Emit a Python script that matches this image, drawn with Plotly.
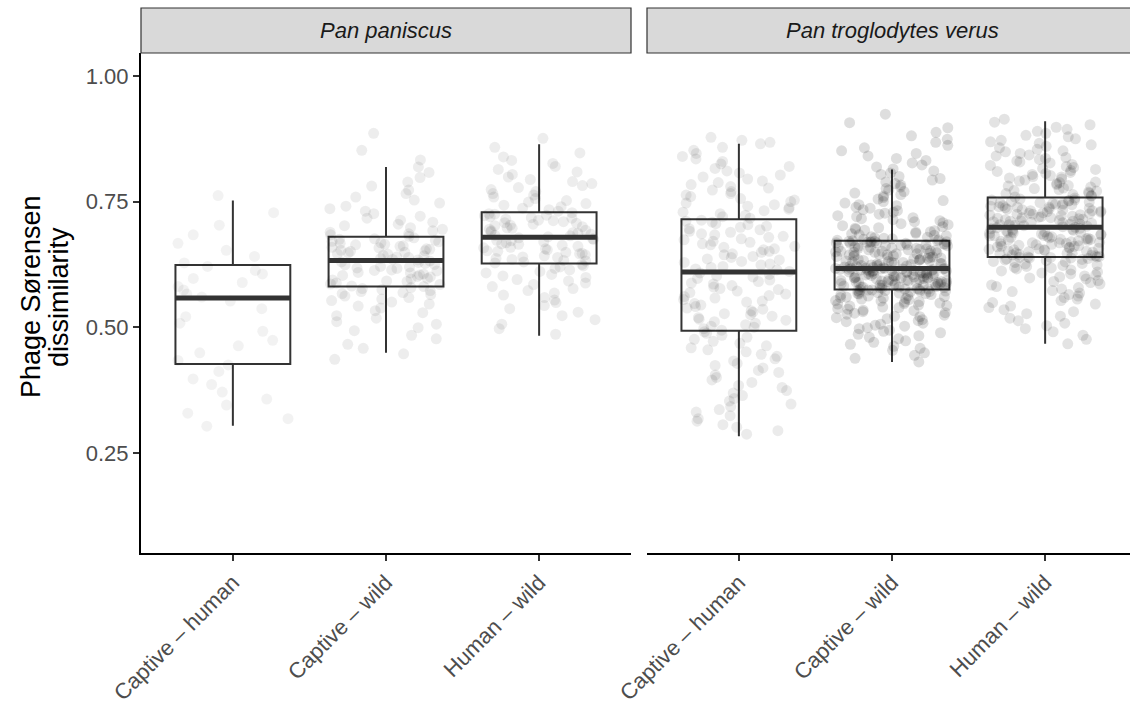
import numpy as np
import plotly.graph_objects as go

categories = ["Captive – human", "Captive – wild", "Human – wild"]
species = ["Pan paniscus", "Pan troglodytes verus"]
y_ticks = [0.25, 0.50, 0.75, 1.00]
y_tick_labels = ["0.25", "0.50", "0.75", "1.00"]

# Box summaries: lower whisker, Q1, median, Q3, upper whisker (one value per category)
paniscus_lower = [0.304, 0.449, 0.483]
paniscus_q1 = [0.427, 0.581, 0.627]
paniscus_median = [0.558, 0.633, 0.679]
paniscus_q3 = [0.624, 0.680, 0.729]
paniscus_upper = [0.752, 0.819, 0.864]

verus_lower = [0.283, 0.431, 0.467]
verus_q1 = [0.493, 0.575, 0.640]
verus_median = [0.610, 0.617, 0.699]
verus_q3 = [0.715, 0.672, 0.758]
verus_upper = [0.865, 0.814, 0.910]

# Pairwise phage Sørensen dissimilarities, stored in thousandths
paniscus_captive_human_k = [
    303, 318, 329, 345, 357, 371, 386, 397, 412, 425, 434, 449, 463, 474, 492, 508, 521, 537,
    552, 560, 566, 574, 581, 589, 597, 606, 613, 621, 628, 641, 653, 667, 684, 703, 728, 762]
paniscus_captive_wild_k = [
    436, 447, 458, 466, 477, 484, 493, 499, 506, 511, 518, 523, 529, 533, 538, 542, 546, 550, 553, 556,
    559, 562, 565, 567, 569, 571, 573, 575, 577, 579, 581, 582, 585, 586, 588, 591, 592, 594, 596, 597,
    600, 601, 603, 604, 606, 608, 609, 612, 613, 614, 617, 618, 620, 621, 624, 625, 627, 629, 630, 632,
    634, 635, 637, 639, 640, 642, 643, 645, 646, 648, 649, 651, 652, 653, 655, 656, 658, 659, 661, 662,
    664, 665, 667, 668, 670, 671, 673, 675, 676, 678, 681, 684, 686, 689, 692, 695, 698, 702, 705, 709,
    713, 717, 721, 726, 731, 736, 741, 747, 753, 759, 766, 773, 781, 789, 798, 808, 819, 833, 852, 886]
paniscus_human_wild_k = [
    486, 497, 506, 515, 523, 530, 537, 543, 549, 554, 559, 564, 568, 573, 577, 581, 585, 588, 592, 595,
    599, 602, 605, 608, 611, 614, 617, 620, 622, 625, 628, 630, 632, 633, 635, 637, 639, 640, 642, 644,
    646, 647, 649, 651, 652, 654, 656, 658, 659, 661, 663, 665, 666, 668, 670, 672, 673, 675, 676, 678,
    680, 682, 683, 685, 687, 688, 690, 692, 693, 695, 697, 698, 700, 702, 703, 705, 707, 708, 710, 712,
    713, 715, 717, 718, 720, 722, 723, 725, 726, 728, 731, 734, 737, 740, 743, 746, 749, 752, 756, 759,
    763, 766, 770, 774, 778, 782, 786, 790, 794, 799, 804, 809, 814, 820, 826, 832, 839, 847, 858, 876]

verus_captive_human_k = [
    287, 294, 301, 306, 313, 318, 324, 331, 336, 342, 347, 353, 358, 364, 369, 374, 380, 384, 390, 395,
    400, 405, 410, 414, 419, 424, 428, 433, 437, 442, 446, 451, 455, 459, 463, 468, 472, 476, 480, 484,
    488, 491, 494, 497, 500, 502, 505, 508, 511, 514, 516, 519, 522, 525, 527, 530, 533, 536, 538, 541,
    544, 547, 550, 552, 555, 558, 561, 563, 566, 569, 572, 575, 577, 580, 583, 586, 588, 591, 594, 597,
    600, 602, 605, 608, 611, 614, 616, 619, 621, 624, 626, 629, 631, 634, 636, 639, 641, 644, 646, 649,
    651, 654, 656, 659, 661, 664, 666, 669, 671, 674, 676, 679, 681, 684, 686, 689, 691, 694, 696, 699,
    701, 704, 706, 709, 711, 713, 717, 720, 723, 726, 729, 732, 735, 738, 741, 744, 747, 750, 753, 756,
    760, 763, 766, 770, 773, 777, 780, 784, 788, 791, 795, 799, 803, 807, 811, 816, 820, 825, 830, 835,
    840, 846, 852, 858, 865, 868, 872, 878]
verus_captive_wild_k = [
    431, 438, 444, 449, 454, 458, 462, 466, 470, 473, 477, 480, 483, 486, 489, 492, 494, 497, 499, 502,
    504, 506, 508, 511, 513, 515, 517, 519, 521, 522, 524, 526, 528, 529, 531, 533, 534, 536, 537, 539,
    540, 542, 543, 544, 546, 547, 548, 550, 551, 552, 553, 555, 556, 557, 558, 559, 560, 561, 562, 563,
    564, 565, 566, 567, 567, 568, 569, 570, 570, 571, 572, 572, 573, 573, 574, 574, 575, 575, 576, 576,
    577, 578, 578, 579, 580, 580, 580, 581, 582, 583, 583, 584, 584, 585, 586, 586, 587, 587, 587, 588,
    589, 589, 590, 591, 591, 592, 592, 593, 593, 593, 594, 595, 595, 596, 597, 597, 598, 598, 598, 599,
    600, 600, 601, 601, 602, 603, 603, 603, 604, 605, 605, 606, 606, 607, 608, 608, 608, 609, 610, 610,
    611, 611, 612, 612, 613, 613, 613, 614, 614, 615, 615, 615, 616, 616, 616, 617, 617, 617, 617, 618,
    619, 619, 620, 621, 621, 622, 623, 623, 624, 625, 625, 626, 627, 627, 628, 629, 629, 630, 631, 632,
    632, 633, 634, 634, 635, 636, 636, 637, 638, 639, 639, 640, 641, 641, 642, 643, 644, 644, 645, 646,
    646, 647, 648, 649, 649, 650, 651, 651, 652, 653, 654, 654, 655, 656, 657, 657, 658, 659, 659, 660,
    661, 662, 662, 663, 664, 664, 665, 666, 667, 667, 668, 668, 669, 669, 670, 670, 671, 671, 672, 672,
    673, 674, 675, 676, 677, 678, 679, 680, 682, 683, 684, 686, 687, 689, 690, 692, 693, 695, 697, 698,
    700, 702, 704, 706, 708, 710, 712, 714, 716, 718, 720, 722, 725, 727, 729, 732, 734, 737, 739, 742,
    744, 747, 750, 752, 755, 758, 761, 764, 767, 770, 773, 776, 779, 783, 786, 789, 793, 796, 800, 804,
    807, 811, 815, 819, 823, 827, 832, 836, 841, 846, 851, 857, 862, 868, 874, 881, 888, 897, 907, 924]
verus_human_wild_k = [
    467, 476, 484, 491, 497, 503, 508, 513, 518, 522, 527, 531, 535, 539, 542, 546, 549, 553, 556, 559,
    562, 565, 568, 571, 573, 576, 579, 581, 584, 586, 589, 591, 593, 596, 598, 600, 602, 604, 606, 608,
    610, 612, 614, 616, 618, 619, 621, 623, 624, 626, 627, 629, 630, 631, 633, 634, 635, 636, 637, 638,
    638, 639, 639, 640, 640, 641, 642, 643, 644, 645, 646, 647, 647, 648, 649, 650, 651, 652, 653, 654,
    654, 655, 656, 657, 658, 659, 660, 661, 661, 662, 663, 664, 665, 666, 667, 668, 668, 669, 670, 671,
    672, 673, 674, 675, 675, 676, 677, 678, 679, 680, 681, 682, 682, 683, 684, 685, 686, 687, 688, 689,
    689, 690, 691, 692, 693, 694, 695, 696, 697, 698, 699, 700, 701, 702, 703, 704, 704, 705, 706, 707,
    708, 709, 710, 711, 711, 712, 713, 714, 715, 716, 717, 718, 718, 719, 720, 721, 722, 723, 724, 725,
    725, 726, 727, 728, 729, 730, 731, 732, 732, 733, 734, 735, 736, 737, 738, 739, 739, 740, 741, 742,
    743, 744, 745, 746, 746, 747, 748, 749, 750, 751, 752, 753, 753, 755, 757, 759, 761, 762, 764, 766,
    767, 769, 771, 772, 774, 776, 777, 779, 781, 782, 784, 786, 788, 789, 791, 793, 795, 797, 799, 800,
    802, 804, 806, 808, 810, 812, 814, 816, 818, 820, 822, 824, 827, 829, 831, 834, 836, 838, 841, 843,
    846, 849, 851, 854, 857, 860, 863, 866, 869, 872, 875, 879, 882, 886, 890, 894, 898, 903, 908, 914]

# ---------------------------------------------------------------- styling
W, H = 1130, 709
FONT = "Liberation Sans, Arial, Helvetica, sans-serif"
INK = "#333333"
BOX_WIDTH = 0.75
JITTER = 0.37
POINT_SIZE = 11


def as_fraction(values_k):
    return [v / 1000 for v in values_k]


panels = [
    dict(name=species[0], xa="x", ya="y",
         stats=(paniscus_lower, paniscus_q1, paniscus_median, paniscus_q3, paniscus_upper),
         groups=[paniscus_captive_human_k, paniscus_captive_wild_k, paniscus_human_wild_k],
         alpha=[0.05, 0.07, 0.07]),
    dict(name=species[1], xa="x2", ya="y2",
         stats=(verus_lower, verus_q1, verus_median, verus_q3, verus_upper),
         groups=[verus_captive_human_k, verus_captive_wild_k, verus_human_wild_k],
         alpha=[0.08, 0.13, 0.11]),
]


def jitter_offsets(n, seed):
    # deterministic hash-based horizontal spread within each category band
    i = np.arange(n) + seed * 1000
    h = np.sin(i * 12.9898 + 78.233) * 43758.5453
    return ((h - np.floor(h)) - 0.5) * 2 * JITTER


fig = go.Figure()

for p_idx, panel in enumerate(panels):
    # jittered raw points
    for k, vals_k in enumerate(panel["groups"]):
        vals = as_fraction(vals_k)
        xs = k + jitter_offsets(len(vals), p_idx * 3 + k + 1)
        fig.add_trace(go.Scatter(
            x=xs, y=vals, mode="markers", xaxis=panel["xa"], yaxis=panel["ya"],
            marker=dict(size=POINT_SIZE, color=f"rgba(0,0,0,{panel['alpha'][k]})", line=dict(width=0)),
            hoverinfo="skip", showlegend=False))

    lower, q1, med, q3, upper = panel["stats"]
    fig.add_trace(go.Box(
        x=list(range(len(categories))), q1=q1, median=med, q3=q3,
        lowerfence=lower, upperfence=upper,
        width=BOX_WIDTH, whiskerwidth=0, boxpoints=False,
        fillcolor="rgba(0,0,0,0)", line=dict(color=INK, width=2),
        xaxis=panel["xa"], yaxis=panel["ya"], hoverinfo="skip", showlegend=False))

    # heavier median bar
    mx, my = [], []
    for k, m in enumerate(med):
        mx += [k - BOX_WIDTH / 2, k + BOX_WIDTH / 2, None]
        my += [m, m, None]
    fig.add_trace(go.Scatter(
        x=mx, y=my, mode="lines", xaxis=panel["xa"], yaxis=panel["ya"],
        line=dict(color=INK, width=5), hoverinfo="skip", showlegend=False))

# ---------------------------------------------------------------- layout geometry (pixels)
plot_top, plot_bottom = 53, 553
strip_top = 8
left_x0, left_x1 = 141, 631
right_x0 = 647
px_per_unit = (left_x1 - left_x0) / 3.2

y_dom = [1 - plot_bottom / H, 1 - plot_top / H]
y_range = [0.0506, 1.0458]

xaxis_common = dict(
    tickmode="array", tickvals=[0, 1, 2], ticktext=categories, tickangle=-45,
    ticks="outside", ticklen=6, tickwidth=1.5, tickcolor=INK,
    tickfont=dict(family=FONT, size=22, color="#4D4D4D"),
    showline=True, linecolor="black", linewidth=2, automargin=False,
    showgrid=False, zeroline=False, fixedrange=True)

fig.update_layout(
    width=W, height=H,
    margin=dict(l=0, r=0, t=0, b=0, autoexpand=False),
    paper_bgcolor="white", plot_bgcolor="white",
    boxmode="overlay",
    xaxis=dict(domain=[left_x0 / W, left_x1 / W], range=[-0.6, 2.6], anchor="y", **xaxis_common),
    xaxis2=dict(domain=[right_x0 / W, 1.0],
                range=[-0.6, -0.6 + (W - right_x0) / px_per_unit], anchor="y2", **xaxis_common),
    yaxis=dict(domain=y_dom, range=y_range, anchor="x",
               tickmode="array", tickvals=y_ticks, ticktext=y_tick_labels,
               ticks="outside", ticklen=6, tickwidth=1.5, tickcolor=INK,
               tickfont=dict(family=FONT, size=22, color="#4D4D4D"),
               showline=True, linecolor="black", linewidth=2, automargin=False,
               showgrid=False, zeroline=False, fixedrange=True),
    yaxis2=dict(domain=y_dom, range=y_range, anchor="x2", matches="y",
                showticklabels=False, ticks="", showline=False, automargin=False,
                showgrid=False, zeroline=False, fixedrange=True),
)

# facet strips
strip_y0, strip_y1 = 1 - plot_top / H, 1 - strip_top / H
right_panel_end = right_x0 + 3.2 * px_per_unit
for name, x0, x1 in [(species[0], left_x0, left_x1), (species[1], right_x0, right_panel_end)]:
    fig.add_shape(type="rect", xref="paper", yref="paper",
                  x0=x0 / W, x1=x1 / W, y0=strip_y0, y1=strip_y1,
                  fillcolor="#D9D9D9", line=dict(color=INK, width=1.2), layer="above")
    fig.add_annotation(xref="paper", yref="paper", x=(x0 + x1) / 2 / W, y=(strip_y0 + strip_y1) / 2,
                       text=f"<i>{name}</i>", showarrow=False,
                       xanchor="center", yanchor="middle",
                       font=dict(family=FONT, size=22, color="#1A1A1A"))

# y-axis title, two lines
title_y = 1 - 297 / H
for txt, xpx in [("Phage Sørensen", 31), ("dissimilarity", 59)]:
    fig.add_annotation(xref="paper", yref="paper", x=xpx / W, y=title_y,
                       text=txt, textangle=-90, showarrow=False,
                       xanchor="center", yanchor="middle",
                       font=dict(family=FONT, size=27, color="black"))

fig.write_html("out.html")
